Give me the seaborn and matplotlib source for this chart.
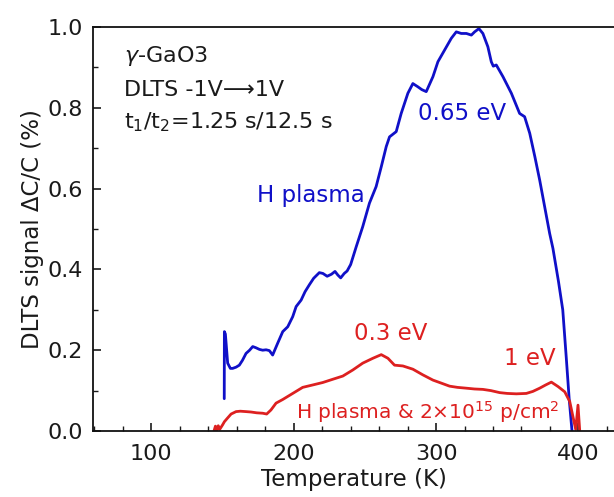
import matplotlib
matplotlib.use("Agg")
import matplotlib.pyplot as plt
from matplotlib.ticker import MultipleLocator, FormatStrFormatter
import pandas as pd
import seaborn as sns

# H plasma treated sample
t_h = [151.2, 151.3, 152.0, 153.6, 155.5, 157.1, 159.5, 161.8, 164.0, 166.5, 169.0,
       171.2, 173.5, 175.9, 178.2, 180.6, 182.9, 185.2, 188.7, 192.3, 195.8, 199.3,
       201.7, 205.2, 208.0, 211.0, 214.0, 218.0, 220.5, 223.5, 226.5, 229.0, 231.0,
       233.0, 235.5, 237.5, 240.0, 243.9, 248.5, 253.2, 257.9, 261.5, 265.0, 267.3,
       272.0, 275.5, 280.2, 283.7, 287.2, 290.0, 293.1, 297.8, 301.3, 306.0, 310.7,
       314.2, 317.7, 321.3, 324.8, 327.1, 330.1, 332.9, 336.4, 338.8, 340.2, 342.3,
       347.0, 352.9, 358.7, 362.2, 365.8, 369.4, 372.8, 376.3, 379.8, 382.1, 386.0,
       389.0, 391.5, 393.5, 395.5]
s_h = [0.080, 0.246, 0.240, 0.168, 0.155, 0.155, 0.158, 0.163, 0.175, 0.192, 0.200,
       0.209, 0.206, 0.202, 0.200, 0.201, 0.199, 0.188, 0.217, 0.246, 0.258, 0.283,
       0.308, 0.324, 0.345, 0.362, 0.378, 0.392, 0.390, 0.383, 0.388, 0.395, 0.386,
       0.379, 0.390, 0.396, 0.412, 0.456, 0.506, 0.564, 0.605, 0.654, 0.704, 0.728,
       0.741, 0.786, 0.836, 0.860, 0.852, 0.845, 0.840, 0.877, 0.914, 0.943, 0.972,
       0.988, 0.984, 0.984, 0.980, 0.988, 0.996, 0.984, 0.951, 0.914, 0.903, 0.906,
       0.877, 0.836, 0.786, 0.778, 0.737, 0.679, 0.621, 0.555, 0.489, 0.452, 0.370,
       0.300, 0.180, 0.080, 0.000]

# H plasma + proton irradiated sample
t_p = [144.0, 145.0, 146.0, 147.0, 148.0, 150.0, 151.3, 153.5, 156.0, 159.5, 162.5,
       166.5, 170.0, 174.0, 178.2, 181.0, 184.0, 187.6, 192.3, 199.3, 206.3, 213.4,
       220.4, 227.4, 234.5, 241.5, 248.5, 255.6, 261.5, 266.2, 270.8, 276.7, 283.7,
       290.7, 297.8, 302.5, 309.5, 315.0, 321.2, 327.0, 332.9, 338.5, 344.7, 350.0,
       356.4, 363.4, 368.0, 372.8, 377.0, 381.0, 385.7, 390.4, 393.9, 396.2, 398.1,
       399.7, 400.9]
s_p = [0.000, 0.012, 0.002, 0.013, 0.004, 0.015, 0.023, 0.032, 0.042, 0.048, 0.049,
       0.048, 0.047, 0.045, 0.044, 0.042, 0.052, 0.069, 0.078, 0.093, 0.108, 0.114,
       0.120, 0.128, 0.136, 0.151, 0.168, 0.180, 0.189, 0.180, 0.163, 0.161, 0.153,
       0.139, 0.126, 0.120, 0.111, 0.108, 0.106, 0.104, 0.103, 0.100, 0.095, 0.093,
       0.092, 0.093, 0.098, 0.106, 0.114, 0.121, 0.110, 0.097, 0.073, 0.035, 0.004,
       0.064, 0.002]

blue = "#1010C8"
red = "#DD2020"
ink = "#1a1a1a"

sns.set_theme(style="ticks")
plt.rcParams["font.family"] = ["DejaVu Sans"]
plt.rcParams["mathtext.fontset"] = "dejavusans"
plt.rcParams["mathtext.default"] = "regular"

fs = 16
fa = 16.5
fig = plt.figure(figsize=(6.14, 4.97), dpi=100)
ax = fig.add_axes([93 / 614, 66 / 497, 1 - 93 / 614, 404 / 497])

df_h = pd.DataFrame({"T": t_h, "S": s_h})
df_p = pd.DataFrame({"T": t_p, "S": s_p})
sns.lineplot(data=df_h, x="T", y="S", ax=ax, color=blue, lw=2.0,
             sort=False, estimator=None)
sns.lineplot(data=df_p, x="T", y="S", ax=ax, color=red, lw=2.0,
             sort=False, estimator=None)

ax.set_xlim(59, 425)
ax.set_ylim(0, 1.0)
ax.xaxis.set_major_locator(MultipleLocator(100))
ax.xaxis.set_minor_locator(MultipleLocator(20))
ax.yaxis.set_major_locator(MultipleLocator(0.2))
ax.yaxis.set_minor_locator(MultipleLocator(0.1))
ax.yaxis.set_major_formatter(FormatStrFormatter("%.1f"))
ax.tick_params(which="major", direction="in", length=6, width=1.2,
               labelsize=fs, colors=ink)
ax.tick_params(axis="x", which="major", pad=9)
ax.tick_params(axis="y", which="major", pad=7)
ax.tick_params(which="minor", direction="in", length=3.5, width=1.0, colors=ink)
ax.tick_params(top=False, right=False, which="both")
ax.spines["right"].set_visible(False)
for sp in ("left", "bottom", "top"):
    ax.spines[sp].set_linewidth(1.3)
    ax.spines[sp].set_color("#111111")

ax.set_xlabel("Temperature (K)", fontsize=fa, color=ink, labelpad=3)
ax.set_ylabel("DLTS signal ΔC/C (%)", fontsize=fa, color=ink, labelpad=3)

ax.text(81, 0.928, r"$\it{\gamma}$-GaO3", fontsize=fs, color=ink,
        va="center", ha="left")
ax.text(81, 0.844, "DLTS -1V⟶1V", fontsize=fs, color=ink,
        va="center", ha="left")
ax.text(81, 0.765, r"t$_1$/t$_2$=1.25 s/12.5 s", fontsize=fs, color=ink,
        va="center", ha="left")

ax.text(212.4, 0.584, "H plasma", fontsize=fa, color=blue, ha="center", va="center")
ax.text(318.4, 0.787, "0.65 eV", fontsize=fa, color=blue, ha="center", va="center")
ax.text(267.9, 0.242, "0.3 eV", fontsize=fa, color=red, ha="center", va="center")
ax.text(366.2, 0.18, "1 eV", fontsize=fa, color=red, ha="center", va="center")
ax.text(294, 0.048, r"H plasma & 2×10$^{15}$ p/cm$^2$", fontsize=14.5, color=red,
        ha="center", va="center")

fig.savefig("out.png", dpi=100)
